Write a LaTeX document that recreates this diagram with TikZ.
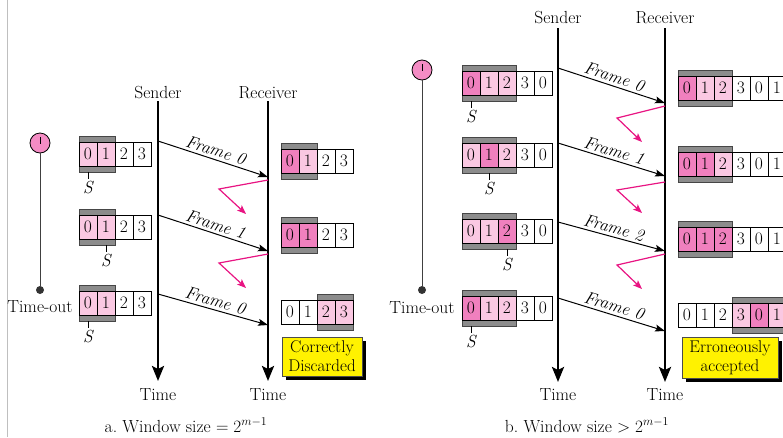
\documentclass[tikz,border=0pt]{standalone}
\usetikzlibrary{arrows.meta,shadows}
\definecolor{lp}{RGB}{250,200,226}
\definecolor{dp}{RGB}{240,128,190}
\definecolor{wg}{RGB}{140,140,140}
\definecolor{wgb}{RGB}{70,70,70}
\definecolor{mag}{RGB}{232,20,130}
\definecolor{clk}{RGB}{244,140,196}
\newcommand{\wrow}[6]{%
  \node[win, minimum width=#5pt] (#1w) at ({#4+#5/2},#3) {};
  \foreach \i/\t/\c in {#6} {\node[cell, fill=\c] (#1c\i) at ({#2+9+18*\i},#3) {\t};}
}
\newcommand{\smark}[2]{%
  \draw[line width=0.8pt] (#1w.south -| #1c#2) -- ++(0,7) node[smk] (#1s) {S};
}
\begin{document}
\begin{tikzpicture}[x=1pt,y=-1pt, font=\fontsize{17.5}{20}\selectfont,
  cell/.style={draw=black, line width=0.8pt, minimum width=18pt, minimum height=24pt, inner sep=0pt},
  win/.style={draw=wgb, fill=wg, line width=0.8pt, inner sep=0pt, minimum height=36pt},
  timeline/.style={line width=2.6pt, -{Stealth[length=15pt,width=12pt,inset=3pt]}},
  frame/.style={line width=1pt, -{Stealth[length=10pt,width=7pt,inset=2pt]}},
  zig/.style={mag, line width=1.2pt, -{Stealth[length=9pt,width=7pt,inset=2pt]}},
  flabel/.style={font=\fontsize{17.5}{20}\selectfont\itshape, above, sloped, inner sep=2.5pt},
  smk/.style={below, inner sep=1pt, font=\fontsize{17.5}{20}\selectfont\itshape},
  note/.style={draw=black!70, fill=yellow, align=center, inner sep=1pt, line width=0.6pt,
    font=\fontsize{17}{19}\selectfont,
    drop shadow={shadow xshift=4pt, shadow yshift=-4pt, fill=black, opacity=1}},
  clock/.style={circle, draw=black, fill=clk, minimum size=20pt, inner sep=0pt, line width=0.8pt},
  dot/.style={circle, fill=black!80, minimum size=8pt, inner sep=0pt},
  lbl/.style={anchor=base, inner sep=0pt}
]
\useasboundingbox (0,0) rectangle (783,437);
\clip (0,0) rectangle (783,437);
\draw[black!25, line width=0.6pt] (7,0) -- (7,437);

% ================= LEFT PANEL =================
\node[clock] (lt) at (40,143) {};
\node[dot] (ltd) at (40,290) {};
\draw[line width=1pt, black!75] (lt.south) -- (ltd);
\draw[line width=0.8pt] (lt.center) ++(0,-6) -- ++(0,7);
\node[lbl] (lto) at (40,312) {Time-out};

\node[lbl] (lsl) at (158,98) {Sender};
\node[lbl] (lrl) at (268,98) {Receiver};
\coordinate (lsT) at (158,101); \coordinate (lsB) at (158,381);
\coordinate (lrT) at (268,101); \coordinate (lrB) at (268,381);
\draw[timeline] (lsT) -- (lsB);
\draw[timeline] (lrT) -- (lrB);
\node[lbl] (lst) at (158,400) {Time};
\node[lbl] (lrt) at (268,400) {Time};

\wrow{sa1}{79}{154}{79}{36}{0/0/lp,1/1/lp,2/2/white,3/3/white}
\smark{sa1}{0}
\wrow{sa2}{79}{227}{79}{36}{0/0/lp,1/1/lp,2/2/white,3/3/white}
\smark{sa2}{1}
\wrow{sa3}{79}{303}{79}{36}{0/0/lp,1/1/lp,2/2/white,3/3/white}
\smark{sa3}{0}

\wrow{ra1}{281}{161}{281}{36}{0/0/dp,1/1/lp,2/2/white,3/3/white}
\wrow{ra2}{281}{235}{281}{36}{0/0/dp,1/1/dp,2/2/white,3/3/white}
\wrow{ra3}{281}{312}{317}{36}{0/0/white,1/1/white,2/2/lp,3/3/lp}

\coordinate (fa1s) at (158,141); \coordinate (fa1r) at (268,177);
\coordinate (fa2s) at (158,215); \coordinate (fa2r) at (268,251);
\coordinate (fa3s) at (158,294); \coordinate (fa3r) at (268,325);
\draw[frame] (fa1s) -- node[flabel] (fla1) {Frame 0} (fa1r);
\draw[frame] (fa2s) -- node[flabel] (fla2) {Frame 1} (fa2r);
\draw[frame] (fa3s) -- node[flabel] (fla3) {Frame 0} (fa3r);

\coordinate (za1a) at (268,180); \coordinate (za1b) at (219,189); \coordinate (za1c) at (246,214);
\coordinate (za2a) at (268,254); \coordinate (za2b) at (219,263); \coordinate (za2c) at (246,288);
\draw[zig] (za1a) -- (za1b) -- (za1c);
\draw[zig] (za2a) -- (za2b) -- (za2c);

\node[note, minimum width=80pt, minimum height=39pt] (cd) at (322,356.5) {Correctly\\Discarded};
\node[lbl] (capa) at (186,432) {a.\ Window size $= 2^{m-1}$};

% ================= RIGHT PANEL =================
\node[clock] (rt) at (422,70) {};
\node[dot] (rtd) at (422,290) {};
\draw[line width=1pt, black!75] (rt.south) -- (rtd);
\draw[line width=0.8pt] (rt.center) ++(0,-6) -- ++(0,7);
\node[lbl] (rto) at (422,313) {Time-out};

\node[lbl] (rsl) at (558,23) {Sender};
\node[lbl] (rrl) at (665,23) {Receiver};
\coordinate (rsT) at (558,28); \coordinate (rsB) at (558,382);
\coordinate (rrT) at (665,28); \coordinate (rrB) at (665,382);
\draw[timeline] (rsT) -- (rsB);
\draw[timeline] (rrT) -- (rrB);
\node[lbl] (rst) at (558,400) {Time};
\node[lbl] (rrt) at (665,400) {Time};

\wrow{sb1}{462}{83}{462}{54}{0/0/dp,1/1/lp,2/2/lp,3/3/white,4/0/white}
\smark{sb1}{0}
\wrow{sb2}{462}{155}{462}{54}{0/0/lp,1/1/dp,2/2/lp,3/3/white,4/0/white}
\smark{sb2}{1}
\wrow{sb3}{462}{231}{462}{54}{0/0/lp,1/1/lp,2/2/dp,3/3/white,4/0/white}
\smark{sb3}{2}
\wrow{sb4}{462}{308}{462}{54}{0/0/dp,1/1/lp,2/2/lp,3/3/white,4/0/white}
\smark{sb4}{0}

\wrow{rb1}{678}{88}{678}{54}{0/0/dp,1/1/lp,2/2/lp,3/3/white,4/0/white,5/1/white}
\wrow{rb2}{678}{164}{678}{54}{0/0/dp,1/1/dp,2/2/lp,3/3/white,4/0/white,5/1/white}
\wrow{rb3}{678}{239}{678}{54}{0/0/dp,1/1/dp,2/2/dp,3/3/white,4/0/white,5/1/white}
\wrow{rb4}{678}{315}{732}{60}{0/0/white,1/1/white,2/2/white,3/3/lp,4/0/dp,5/1/lp}

\coordinate (fb1s) at (558,68);  \coordinate (fb1r) at (665,103);
\coordinate (fb2s) at (558,143); \coordinate (fb2r) at (665,176);
\coordinate (fb3s) at (558,222); \coordinate (fb3r) at (665,251);
\coordinate (fb4s) at (558,298); \coordinate (fb4r) at (665,331);
\draw[frame] (fb1s) -- node[flabel] (flb1) {Frame 0} (fb1r);
\draw[frame] (fb2s) -- node[flabel] (flb2) {Frame 1} (fb2r);
\draw[frame] (fb3s) -- node[flabel] (flb3) {Frame 2} (fb3r);
\draw[frame] (fb4s) -- node[flabel] (flb4) {Frame 0} (fb4r);

\coordinate (zb1a) at (665,106); \coordinate (zb1b) at (617,118); \coordinate (zb1c) at (642,142);
\coordinate (zb2a) at (665,182); \coordinate (zb2b) at (617,190); \coordinate (zb2c) at (642,213);
\coordinate (zb3a) at (665,254); \coordinate (zb3b) at (617,265); \coordinate (zb3c) at (642,289);
\draw[zig] (zb1a) -- (zb1b) -- (zb1c);
\draw[zig] (zb2a) -- (zb2b) -- (zb2c);
\draw[zig] (zb3a) -- (zb3b) -- (zb3c);

\node[note, minimum width=96pt, minimum height=41pt] (ea) at (730,357.5) {Erroneously\\accepted};
\node[lbl] (capb) at (587,432) {b.\ Window size $> 2^{m-1}$};
\end{tikzpicture}
\end{document}
